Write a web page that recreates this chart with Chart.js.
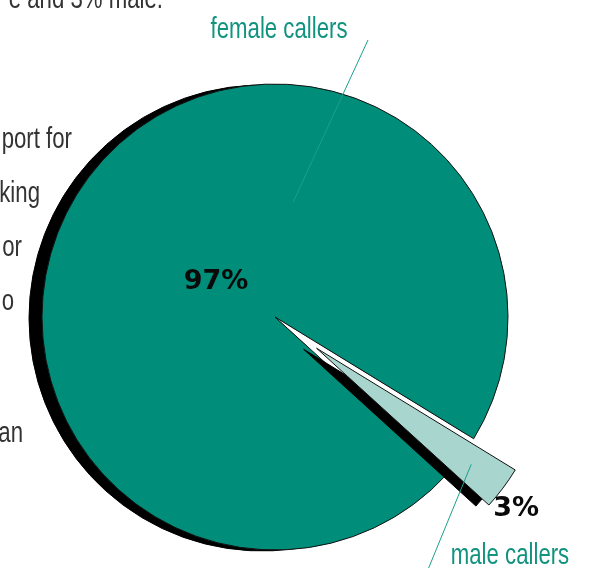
<!DOCTYPE html>
<html>
<head>
<meta charset="utf-8">
<script src="https://cdn.jsdelivr.net/npm/chart.js@4.4.1/dist/chart.umd.min.js"></script>
<style>
  html, body { margin: 0; padding: 0; background: #fff; overflow: hidden; }
  canvas { display: block; }
</style>
</head>
<body>
<canvas id="pie" width="589" height="568"></canvas>
<script>
// data
const categories = ["female callers", "male callers"];
const values = [97, 3];
const sliceColors = ["#008e7a", "#a8d5cd"];
const explodeBy = [0, 52];

// bits of the report paragraph next to the chart (cut by the crop)
const sideText = [
  { text: "e and 3% male.", x: 163, y: 8 },
  { text: "port for", x: 72, y: 148 },
  { text: "king", x: 40, y: 202 },
  { text: "or", x: 22, y: 256 },
  { text: "o", x: 14, y: 310 },
  { text: "an", x: 23, y: 442 }
];

const SHADOW_X = -13, SHADOW_Y = 1;
const NARROW_FONT = "30px 'Liberation Sans', Arial, sans-serif";
const NARROW_SCALE = 0.74;   // squeeze Arial-like glyphs into a narrow face
const TEAL_TEXT = "#12937f";

function midAngle(arc) {
  return (arc.startAngle + arc.endAngle) / 2;
}

function explodedCenter(arc, i) {
  const a = midAngle(arc);
  return { x: arc.x + Math.cos(a) * explodeBy[i], y: arc.y + Math.sin(a) * explodeBy[i] };
}

function narrowText(ctx, text, x, y, align) {
  ctx.save();
  ctx.font = NARROW_FONT;
  ctx.textAlign = align;
  ctx.textBaseline = "alphabetic";
  ctx.translate(x, y);
  ctx.scale(NARROW_SCALE, 1);
  ctx.fillText(text, 0, 0);
  ctx.restore();
}

const pieDecor = {
  id: "pieDecor",
  // draw every slice by hand: black drop shadow first, then the slice, pulled out if exploded
  beforeDatasetDraw(chart, args) {
    const ctx = chart.ctx;
    const arcs = args.meta.data;
    arcs.forEach((arc, i) => {
      const a = midAngle(arc);
      const dx = Math.cos(a) * explodeBy[i];
      const dy = Math.sin(a) * explodeBy[i];

      ctx.save();
      if (explodeBy[i] === 0) {
        // keep this shadow out of the holes left by the pulled-out slices
        ctx.beginPath();
        ctx.rect(0, 0, chart.width, chart.height);
        arcs.forEach((other, j) => {
          if (j === i || explodeBy[j] === 0) return;
          ctx.moveTo(other.x, other.y);
          ctx.arc(other.x, other.y, 2000, other.startAngle, other.endAngle);
          ctx.closePath();
        });
        ctx.clip("evenodd");
      }
      ctx.translate(dx + SHADOW_X, dy + SHADOW_Y);
      const opts = arc.options;
      arc.options = Object.assign({}, opts, { backgroundColor: "#000", borderColor: "#000" });
      arc.draw(ctx);
      arc.options = opts;
      ctx.restore();

      ctx.save();
      ctx.translate(dx, dy);
      arc.draw(ctx);
      ctx.restore();
    });
    return false;
  },

  afterDatasetsDraw(chart) {
    const ctx = chart.ctx;
    const arcs = chart.getDatasetMeta(0).data;
    const total = values.reduce((s, v) => s + v, 0);
    const R = arcs[0].outerRadius;

    // percentages: distance from centre (x radius) and small turn off the mid angle
    const pctDist = [0.295, 1.1];
    const pctTurn = [-6, 2];
    ctx.save();
    ctx.fillStyle = "#0a0a0a";
    ctx.font = "bold 27px 'DejaVu Sans', Verdana, sans-serif";
    ctx.textAlign = "center";
    ctx.textBaseline = "middle";
    arcs.forEach((arc, i) => {
      const c = explodedCenter(arc, i);
      const a = midAngle(arc) + pctTurn[i] * Math.PI / 180;
      const pct = Math.round(values[i] / total * 100) + "%";
      ctx.fillText(pct, c.x + Math.cos(a) * R * pctDist[i], c.y + Math.sin(a) * R * pctDist[i]);
    });
    ctx.restore();

    // category labels with leader lines
    const f = explodedCenter(arcs[0], 0);
    const fa = -81 * Math.PI / 180;
    const m = explodedCenter(arcs[1], 1);
    const ma = midAngle(arcs[1]);
    const leaders = [
      { from: [368, 40], to: [f.x + Math.cos(fa) * R * 0.5, f.y + Math.sin(fa) * R * 0.5] },
      { from: [427, 572], to: [m.x + Math.cos(ma) * R * 0.83, m.y + Math.sin(ma) * R * 0.83] }
    ];
    ctx.save();
    ctx.strokeStyle = "#1aa08c";
    ctx.lineWidth = 1;
    leaders.forEach(l => {
      ctx.beginPath();
      ctx.moveTo(l.from[0], l.from[1]);
      ctx.lineTo(l.to[0], l.to[1]);
      ctx.stroke();
    });
    ctx.fillStyle = TEAL_TEXT;
    narrowText(ctx, categories[0], 279, 38, "center");
    narrowText(ctx, categories[1], 510, 564, "center");
    ctx.restore();

    // surrounding paragraph text
    ctx.save();
    ctx.fillStyle = "#333";
    sideText.forEach(t => narrowText(ctx, t.text, t.x, t.y, "right"));
    ctx.restore();
  }
};

new Chart(document.getElementById("pie"), {
  type: "pie",
  data: {
    labels: categories,
    datasets: [{
      data: values,
      backgroundColor: sliceColors,
      borderColor: "#111",
      borderWidth: 1,
      radius: 233
    }]
  },
  options: {
    responsive: false,
    animation: false,
    rotation: 132.3,
    layout: { padding: { left: 0, right: 39, top: 66, bottom: 0 } },
    plugins: {
      legend: { display: false },
      tooltip: { enabled: false }
    }
  },
  plugins: [pieDecor]
});
</script>
</body>
</html>
